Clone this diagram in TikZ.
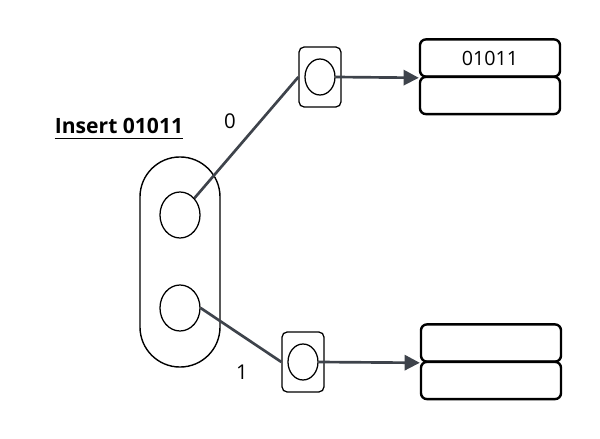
\documentclass[tikz,border=0pt]{standalone}
\usepackage{fontspec}
\setsansfont{Open Sans}
\usepackage{tikz}
\usetikzlibrary{arrows.meta,shapes.geometric,positioning}
\definecolor{edgegray}{HTML}{3E434B}

\begin{document}
\begin{tikzpicture}[x=0.025cm,y=-0.025cm,
		bucket/.style={draw, line width=0.9pt, ellipse, minimum width=1cm, minimum height=1.15cm, inner sep=0pt},
		slot/.style={draw, line width=0.9pt, ellipse, minimum width=0.75cm, minimum height=0.9cm, inner sep=0pt},
		leafbox/.style={draw, line width=0.9pt, rounded corners=0.13cm, minimum width=1.05cm, minimum height=1.5cm, inner sep=0pt},
		cell/.style={draw, line width=1.7pt, rounded corners=0.15cm, minimum width=3.5cm, minimum height=0.93cm, inner sep=0pt, font=\sffamily\fontsize{14}{16}\selectfont},
		edge/.style={draw=edgegray, line width=1.9pt},
		lbl/.style={font=\sffamily\fontsize{14.5}{16}\selectfont}]
	\useasboundingbox (0,0) rectangle (600,439);
	
	% root node
	\node [draw, line width=1pt, rounded corners=1cm, minimum width=2cm, minimum height=5.25cm] (root) at (180,262) {};
	\node [bucket] (c0) at (180,215) {};
	\node [bucket] (c1) at (180,308) {};
	
	\node [inner sep=0pt, font=\sffamily\bfseries\fontsize{15}{17}\selectfont] (title) at (119,126) {Insert 01011};
	\draw [line width=1.2pt] ([yshift=-3.6pt]title.base west) -- ([yshift=-3.6pt]title.base east);
	
	% children
	\node [leafbox] (b0) at (320,77) {};
	\node [slot] (s0) at (b0) {};
	\node [leafbox] (b1) at (303,362) {};
	\node [slot] (s1) at (b1) {};
	
	% stored keys
	\node [cell] (k0a) at (490,58) {01011};
	\node [cell] (k0b) at (490,95.5) {};
	\node [cell] (k1a) at (491,343) {};
	\node [cell] (k1b) at (491,380.5) {};
	
	\draw [edge] (c0) -- (b0.west);
	\draw [edge] (c1.east) -- (b1.west);
	\draw [edge, -{Triangle[length=0.38cm, width=0.38cm]}] (s0.east) -- (k0a.south west);
	\draw [edge, -{Triangle[length=0.38cm, width=0.38cm]}] (s1.east) -- (k1a.south west);
	
	\node [lbl] (l0) at (230,121) {0};
	\node [lbl] (l1) at (242,372) {1};
\end{tikzpicture}
\end{document}
